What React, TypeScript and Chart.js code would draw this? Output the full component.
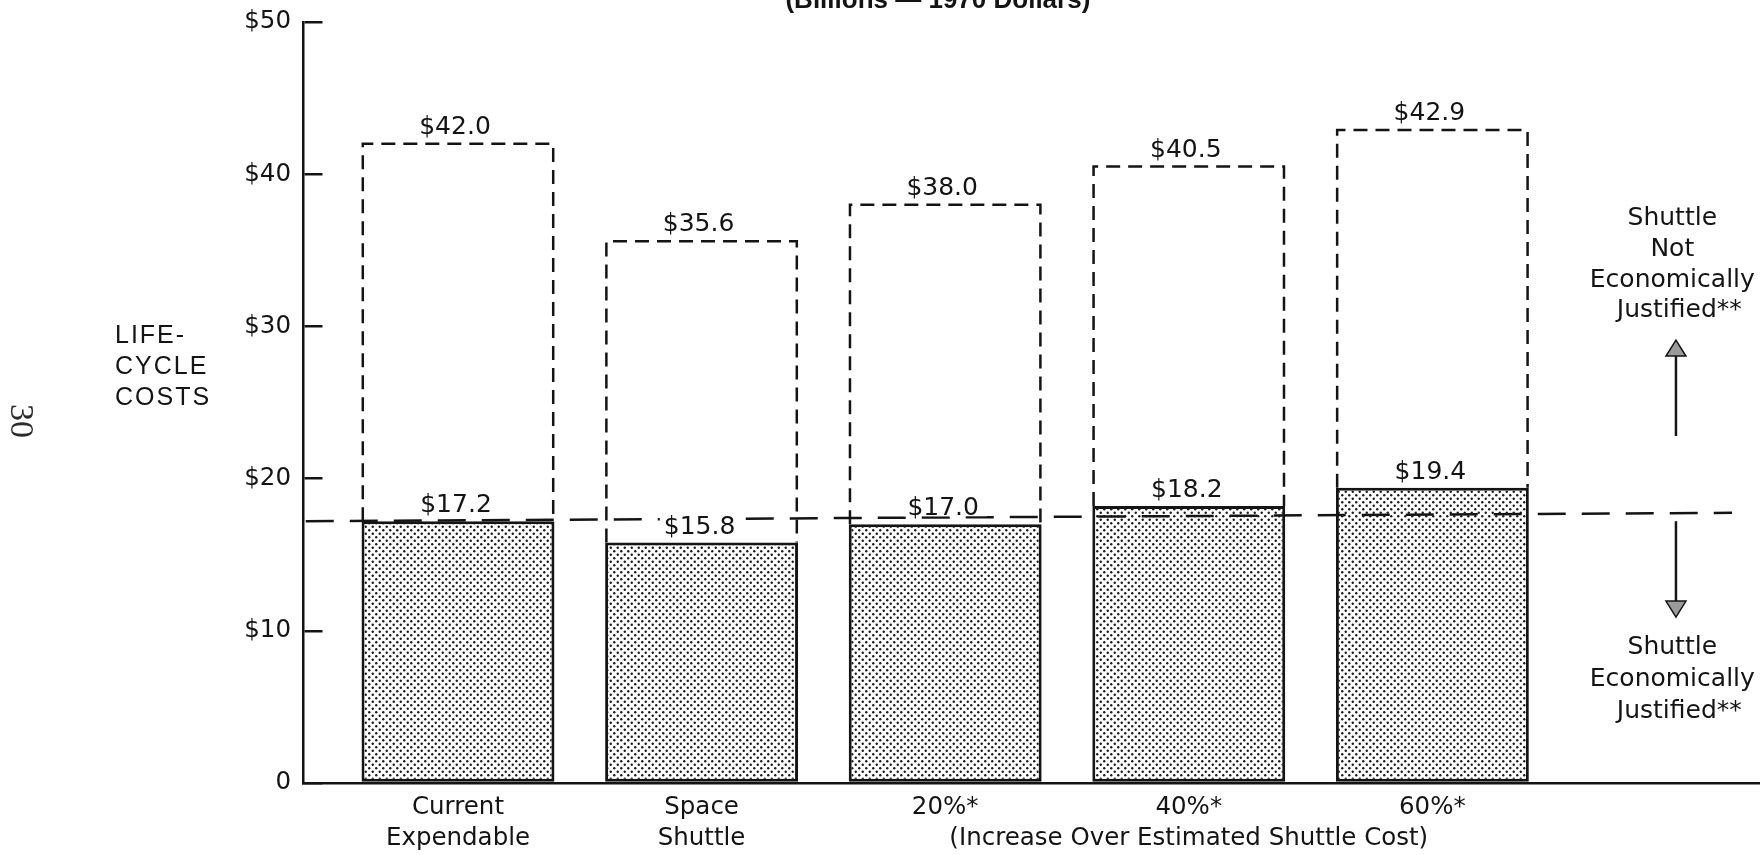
import React, { useEffect, useRef } from 'react';
import { Chart, registerables } from 'chart.js';

Chart.register(...registerables);

// Bar positions on the x axis and their (multi-line) labels
const categoryPositions = [1, 2, 3, 4, 5];
const categoryLabels: string[][] = [
  ['Current', 'Expendable'],
  ['Space', 'Shuttle'],
  ['20%*'],
  ['40%*', '(Increase Over Estimated Shuttle Cost)'],
  ['60%*'],
];

// Life-cycle costs in billions of 1970 dollars
const lowerCosts = [17.2, 15.8, 17.0, 18.2, 19.4];
const upperCosts = [42.0, 35.6, 38.0, 40.5, 42.9];

// Break-even reference line (x in bar-position units, y in billions)
const breakEvenX = [0.375, 6.23];
const breakEvenY = [17.2, 17.75];

// Value axis
const yTickValues = [0, 10, 20, 30, 40, 50];
const yTickLabels = ['0', '$10', '$20', '$30', '$40', '$50'];

// Text blocks
const unitsTitle = '(Billions \u2014 1970 Dollars)';
const axisTitleLines = ['LIFE-', 'CYCLE', 'COSTS'];
const notJustifiedLines = ['Shuttle', 'Not', 'Economically', 'Justified**'];
const justifiedLines = ['Shuttle', 'Economically', 'Justified**'];
const pageNumber = '30';

const SANS = '"DejaVu Sans", "Liberation Sans", sans-serif';
const HELV = '"Liberation Sans", Arial, sans-serif';
const SERIF = '"Liberation Serif", "DejaVu Serif", serif';
const INK = '#141414';

const money = (v: number) => '$' + v.toFixed(1);

// Stippled fill used for the solid bars
function makeStipple(ctx: CanvasRenderingContext2D) {
  const tile = document.createElement('canvas');
  tile.width = 7;
  tile.height = 7;
  const t = tile.getContext('2d')!;
  t.fillStyle = '#ffffff';
  t.fillRect(0, 0, 7, 7);
  t.fillStyle = '#1a1a1a';
  for (const [cx, cy] of [
    [1.75, 1.75],
    [5.25, 5.25],
  ]) {
    t.beginPath();
    t.arc(cx, cy, 1.2, 0, Math.PI * 2);
    t.fill();
  }
  return ctx.createPattern(tile, 'repeat');
}

function drawArrow(ctx: CanvasRenderingContext2D, x: number, yFrom: number, yTo: number) {
  const dir = Math.sign(yTo - yFrom);
  const headLen = 16;
  const headHalf = 10;
  const yBase = yTo - dir * headLen;
  ctx.save();
  ctx.strokeStyle = INK;
  ctx.lineWidth = 2.5;
  ctx.beginPath();
  ctx.moveTo(x, yFrom);
  ctx.lineTo(x, yBase);
  ctx.stroke();
  ctx.beginPath();
  ctx.moveTo(x, yTo);
  ctx.lineTo(x - headHalf, yBase);
  ctx.lineTo(x + headHalf, yBase);
  ctx.closePath();
  ctx.fillStyle = '#9a9a9a';
  ctx.fill();
  ctx.lineWidth = 1.5;
  ctx.stroke();
  ctx.restore();
}

const costAnnotations = {
  id: 'costAnnotations',
  afterDatasetsDraw(chart: any) {
    const ctx: CanvasRenderingContext2D = chart.ctx;
    const barMeta = chart.getDatasetMeta(0);
    const boxMeta = chart.getDatasetMeta(1);

    // dashed outline of the upper-cost bars
    ctx.save();
    ctx.strokeStyle = INK;
    ctx.lineWidth = 2.5;
    ctx.setLineDash([14, 8]);
    boxMeta.data.forEach((el: any) => {
      const { x, y, base, width } = el.getProps(['x', 'y', 'base', 'width'], true);
      const l = x - width / 2 + 1.25;
      const r = x + width / 2 - 1.25;
      ctx.beginPath();
      ctx.moveTo(l, base);
      ctx.lineTo(l, y);
      ctx.lineTo(r, y);
      ctx.lineTo(r, base);
      ctx.stroke();
    });
    ctx.restore();

    // value labels
    ctx.save();
    ctx.font = `25px ${SANS}`;
    ctx.textAlign = 'center';
    ctx.textBaseline = 'alphabetic';
    ctx.fillStyle = INK;
    boxMeta.data.forEach((el: any, i: number) => {
      ctx.fillText(money(upperCosts[i]), el.x - 3, el.y - 10);
    });
    barMeta.data.forEach((el: any, i: number) => {
      const text = money(lowerCosts[i]);
      const w = ctx.measureText(text).width;
      const yb = el.y - 9;
      ctx.fillStyle = '#ffffff';
      ctx.fillRect(el.x - w / 2 - 6, yb - 20, w + 12, 21);
      ctx.fillStyle = INK;
      ctx.fillText(text, el.x - 2, yb);
    });
    ctx.restore();
  },
  afterDraw(chart: any) {
    const ctx: CanvasRenderingContext2D = chart.ctx;
    const { chartArea } = chart;
    const xs = chart.scales.x;
    const ys = chart.scales.y;
    const px = (v: number) => xs.getPixelForValue(v);
    const py = (v: number) => ys.getPixelForValue(v);

    ctx.save();
    ctx.fillStyle = INK;
    ctx.textBaseline = 'alphabetic';

    // units heading, running off the top edge
    ctx.font = `bold 26px ${HELV}`;
    ctx.textAlign = 'center';
    ctx.fillText(unitsTitle, px(2.97), chartArea.top - 14);

    // value-axis title, horizontal and left aligned
    ctx.font = `25px ${HELV}`;
    ctx.textAlign = 'left';
    (ctx as any).letterSpacing = '2px';
    axisTitleLines.forEach((t, i) => ctx.fillText(t, chartArea.left - 188, py(28.9) + i * 31));
    (ctx as any).letterSpacing = '0px';

    // right-hand notes with arrows
    ctx.font = `25px ${SANS}`;
    ctx.textAlign = 'center';
    const nx = px(5.985);
    notJustifiedLines.forEach((t, i) =>
      ctx.fillText(t, nx + (t.endsWith('**') ? 7 : 0), py(36.65) + i * 30.7)
    );
    justifiedLines.forEach((t, i) =>
      ctx.fillText(t, nx + (t.endsWith('**') ? 7 : 0), py(8.5) + i * 32)
    );
    drawArrow(ctx, px(6.0), py(22.8), py(29.1));
    drawArrow(ctx, px(6.0), py(17.2), py(10.9));

    // page number, turned sideways
    ctx.font = `34px ${SERIF}`;
    ctx.fillStyle = '#2a2a2a';
    ctx.textAlign = 'left';
    ctx.translate(11, py(24.9));
    ctx.rotate(Math.PI / 2);
    ctx.fillText(pageNumber, 0, 0);
    ctx.restore();
  },
};

export default function App() {
  const canvasRef = useRef<HTMLCanvasElement>(null);

  useEffect(() => {
    const canvas = canvasRef.current!;
    const ctx = canvas.getContext('2d')!;
    const stipple = makeStipple(ctx);

    const barWidthShare = 0.792;

    const chart = new Chart(ctx, {
      type: 'bar',
      data: {
        datasets: [
          {
            type: 'bar',
            label: 'Lower cost',
            data: categoryPositions.map((x, i) => ({ x, y: lowerCosts[i] })),
            backgroundColor: stipple as any,
            borderColor: INK,
            borderWidth: 3,
            borderSkipped: false,
            grouped: false,
            categoryPercentage: 1,
            barPercentage: barWidthShare,
            order: 1,
          } as any,
          {
            type: 'bar',
            label: 'Upper cost',
            data: categoryPositions.map((x, i) => ({ x, y: [lowerCosts[i], upperCosts[i]] })),
            backgroundColor: 'rgba(0,0,0,0)',
            borderWidth: 0,
            grouped: false,
            categoryPercentage: 1,
            barPercentage: barWidthShare,
            order: 2,
          } as any,
          {
            type: 'line',
            label: 'Break-even',
            data: breakEvenX.map((x, i) => ({ x, y: breakEvenY[i] })),
            borderColor: INK,
            borderWidth: 2.5,
            borderDash: [28, 16],
            pointRadius: 0,
            fill: false,
            order: 0,
          } as any,
        ],
      },
      options: {
        animation: false,
        responsive: false,
        devicePixelRatio: 1,
        layout: { padding: { top: 22, right: 0, bottom: 0, left: 0 } },
        plugins: {
          legend: { display: false },
          tooltip: { enabled: false },
          title: { display: false },
        },
        scales: {
          x: {
            type: 'linear',
            min: 0.3637,
            max: 6.345,
            offset: false,
            afterBuildTicks: (axis: any) => {
              axis.ticks = categoryPositions.map((v) => ({ value: v }));
            },
            afterFit: (axis: any) => {
              axis.height = 72;
            },
            grid: { display: false, drawTicks: false, offset: false },
            border: { display: true, color: INK, width: 2.5 },
            ticks: {
              autoSkip: false,
              maxRotation: 0,
              minRotation: 0,
              padding: 9,
              color: INK,
              font: { family: SANS, size: 24.5, lineHeight: 1.26 },
              callback: (v: any) => categoryLabels[categoryPositions.indexOf(Number(v))] ?? '',
            },
          },
          y: {
            min: 0,
            max: 50,
            afterFit: (axis: any) => {
              axis.width = 303;
            },
            grid: {
              display: true,
              drawOnChartArea: true,
              drawTicks: true,
              tickLength: 12,
              tickColor: 'rgba(0,0,0,0)',
              color: INK,
              lineWidth: 2.5,
            },
            border: { display: true, color: INK, width: 2.5, dash: [18, 4000] },
            ticks: {
              stepSize: 10,
              padding: 0,
              color: INK,
              font: { family: SANS, size: 24.5 },
              callback: (v: any) => yTickLabels[yTickValues.indexOf(Number(v))] ?? '',
            },
          },
        },
      } as any,
      plugins: [costAnnotations],
    });

    return () => chart.destroy();
  }, []);

  return (
    <div style={{ position: 'fixed', left: 0, top: 0, width: 1760, height: 855, background: '#ffffff' }}>
      <canvas
        ref={canvasRef}
        width={1760}
        height={855}
        style={{ display: 'block', width: '1760px', height: '855px' }}
      />
    </div>
  );
}
